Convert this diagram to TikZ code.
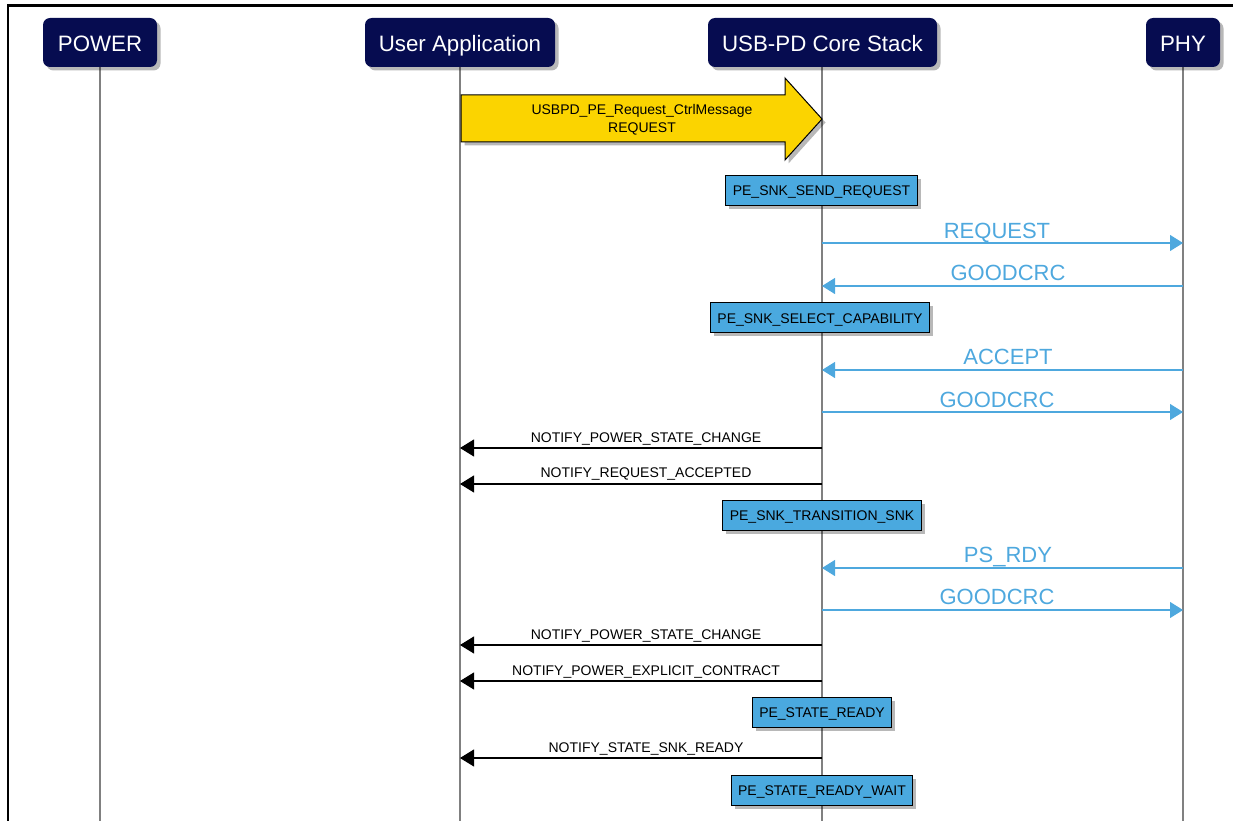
\documentclass[tikz,border=0pt]{standalone}
\usepackage{fontspec}
\setmainfont{Liberation Sans}
\usetikzlibrary{arrows.meta,shadows}
\definecolor{navy}{RGB}{6,12,80}
\definecolor{gold}{RGB}{251,212,0}
\definecolor{stblue}{RGB}{74,169,223}
\definecolor{msgblue}{RGB}{78,168,222}
\definecolor{lifegray}{RGB}{128,128,128}
\tikzset{
  shadowed/.style={drop shadow={shadow xshift=3.5pt,shadow yshift=-3.5pt,fill=black,opacity=0.28}},
  head/.style={fill=navy, rounded corners=7pt, text=white, font=\fontsize{22.3}{25}\selectfont,
    minimum height=49pt, inner sep=0pt, text height=17.5pt, text depth=0pt, shadowed},
  life/.style={draw=lifegray, line width=1.6pt},
  state/.style={fill=stblue, draw=black, line width=1pt, font=\fontsize{14}{16}\selectfont,
    minimum height=30pt, inner xsep=7pt, inner ysep=0pt, text height=11pt, text depth=0pt, shadowed},
  bmsg/.style={draw=msgblue, line width=1.1pt, -{Triangle[length=13pt,width=16pt]}},
  kmsg/.style={draw=black, line width=1.1pt, -{Triangle[length=14pt,width=17pt]}},
  blab/.style={text=msgblue, font=\fontsize{22}{25}\selectfont, anchor=base, inner sep=0pt},
  klab/.style={text=black, font=\fontsize{14}{16}\selectfont, anchor=base, inner sep=0pt},
}
\begin{document}
\begin{tikzpicture}[x=1pt,y=-1pt]
\useasboundingbox (0,0) rectangle (1233,821);
% frame
\coordinate (frtl) at (8,5.5);
\coordinate (frtr) at (1240,5.5);
\coordinate (frbl) at (8,830);
\draw[line width=2.6pt] (frbl) -- (frtl) -- (frtr);
% lifeline ends
\coordinate (pwE) at (100,830);
\coordinate (uaE) at (460,830);
\coordinate (csE) at (822,830);
\coordinate (phE) at (1183,830);
\draw[life] (100,42) -- (pwE);
\draw[life] (460,42) -- (uaE);
\draw[life] (822,42) -- (csE);
\draw[life] (1183,42) -- (phE);
% headers
\node[head, minimum width=114pt] (pw) at (100,42.5) {POWER};
\node[head, minimum width=190pt] (ua) at (460,42.5) {User Application};
\node[head, minimum width=229pt] (cs) at (822.5,42.5) {USB-PD Core Stack};
\node[head, minimum width=74pt] (ph) at (1183,42.5) {PHY};
% yellow block arrow
\filldraw[fill=gold, draw=black, line width=1pt, shadowed]
  (461,95) -- (785,95) -- (785,78) -- (822,119) -- (785,160) -- (785,142) -- (461,142) -- cycle;
\node[klab] (ya1) at (642,115) {USBPD\_PE\_Request\_CtrlMessage};
\node[klab] (ya2) at (642,133) {REQUEST};
% states
\node[state] (s1) at (821.5,190.5) {PE\_SNK\_SEND\_REQUEST};
\node[state] (s2) at (820,317.5) {PE\_SNK\_SELECT\_CAPABILITY};
\node[state] (s3) at (822,515) {PE\_SNK\_TRANSITION\_SNK};
\node[state] (s4) at (822,712) {PE\_STATE\_READY};
\node[state] (s5) at (822,790) {PE\_STATE\_READY\_WAIT};
% blue messages
\coordinate (b1a) at (822,243); \coordinate (b1b) at (1183,243);
\draw[bmsg] (b1a) -- (b1b);
\node[blab] (l1) at (997,238) {REQUEST};
\coordinate (b2a) at (1183,286); \coordinate (b2b) at (822,286);
\draw[bmsg] (b2a) -- (b2b);
\node[blab] (l2) at (1008,280.5) {GOODCRC};
\coordinate (b3a) at (1183,370); \coordinate (b3b) at (822,370);
\draw[bmsg] (b3a) -- (b3b);
\node[blab] (l3) at (1008,364.5) {ACCEPT};
\coordinate (b4a) at (822,412); \coordinate (b4b) at (1183,412);
\draw[bmsg] (b4a) -- (b4b);
\node[blab] (l4) at (997,407) {GOODCRC};
\coordinate (b5a) at (1183,568); \coordinate (b5b) at (822,568);
\draw[bmsg] (b5a) -- (b5b);
\node[blab] (l5) at (1008,562.5) {PS\_RDY};
\coordinate (b6a) at (822,610); \coordinate (b6b) at (1183,610);
\draw[bmsg] (b6a) -- (b6b);
\node[blab] (l6) at (997,604.5) {GOODCRC};
% black messages
\coordinate (k1a) at (822,448); \coordinate (k1b) at (460,448);
\draw[kmsg] (k1a) -- (k1b);
\node[klab] (n1) at (646,442) {NOTIFY\_POWER\_STATE\_CHANGE};
\coordinate (k2a) at (822,484); \coordinate (k2b) at (460,484);
\draw[kmsg] (k2a) -- (k2b);
\node[klab] (n2) at (646,477) {NOTIFY\_REQUEST\_ACCEPTED};
\coordinate (k3a) at (822,645); \coordinate (k3b) at (460,645);
\draw[kmsg] (k3a) -- (k3b);
\node[klab] (n3) at (646,639) {NOTIFY\_POWER\_STATE\_CHANGE};
\coordinate (k4a) at (822,681); \coordinate (k4b) at (460,681);
\draw[kmsg] (k4a) -- (k4b);
\node[klab] (n4) at (646,675) {NOTIFY\_POWER\_EXPLICIT\_CONTRACT};
\coordinate (k5a) at (822,758); \coordinate (k5b) at (460,758);
\draw[kmsg] (k5a) -- (k5b);
\node[klab] (n5) at (646,752) {NOTIFY\_STATE\_SNK\_READY};
\end{tikzpicture}
\end{document}
